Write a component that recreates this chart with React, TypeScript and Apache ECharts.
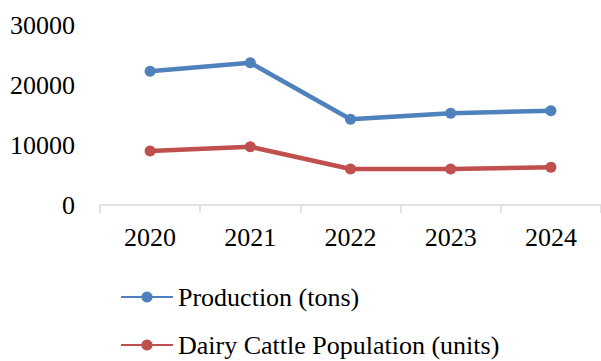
import React, { useEffect, useRef } from "react";
import * as echarts from "echarts";

const years = ["2020", "2021", "2022", "2023", "2024"];
const production = [22300, 23700, 14300, 15300, 15700];
const cattle = [9000, 9700, 6000, 6000, 6300];
const seriesNames = ["Production (tons)", "Dairy Cattle Population (units)"];
const yTicks = { min: 0, max: 30000, interval: 10000 };

const FONT = "'Liberation Serif', 'Times New Roman', serif";

function legendFor(name: string, top: number) {
  return {
    orient: "vertical",
    left: 120,
    top,
    padding: 0,
    itemWidth: 52,
    itemHeight: 14,
    textStyle: { fontFamily: FONT, fontSize: 26, color: "#000", lineHeight: 26 },
    data: [name],
  };
}

export default function App() {
  const ref = useRef<HTMLDivElement>(null);
  useEffect(() => {
    document.body.style.margin = "0";
    const chart = echarts.init(ref.current!, null, { renderer: "svg" });
    chart.setOption({
      animation: false,
      textStyle: { fontFamily: FONT },
      grid: { left: 100, top: 25, width: 503, height: 180 },
      legend: [legendFor(seriesNames[0], 284), legendFor(seriesNames[1], 332)],
      xAxis: {
        type: "category",
        data: years,
        boundaryGap: true,
        axisLine: { show: true, lineStyle: { color: "#d9d9d9", width: 1.5 } },
        axisTick: { show: true, length: 8, lineStyle: { color: "#d9d9d9", width: 1.5 } },
        axisLabel: { color: "#000", fontSize: 26, fontFamily: FONT, margin: 19 },
      },
      yAxis: {
        type: "value",
        min: yTicks.min,
        max: yTicks.max,
        interval: yTicks.interval,
        axisLine: { show: false },
        axisTick: { show: false },
        splitLine: { show: false },
        axisLabel: {
          color: "#000",
          fontSize: 26,
          fontFamily: FONT,
          margin: 25,
          formatter: (v: number) => String(v),
        },
      },
      series: [
        {
          name: seriesNames[0],
          type: "line",
          data: production,
          symbol: "circle",
          symbolSize: 11,
          lineStyle: { width: 4.5, color: "#4F81BD" },
          itemStyle: { color: "#4F81BD" },
        },
        {
          name: seriesNames[1],
          type: "line",
          data: cattle,
          symbol: "circle",
          symbolSize: 11,
          lineStyle: { width: 4.5, color: "#C0504D" },
          itemStyle: { color: "#C0504D" },
        },
      ],
    });
    return () => chart.dispose();
  }, []);
  return <div ref={ref} style={{ width: 601, height: 361 }} />;
}
